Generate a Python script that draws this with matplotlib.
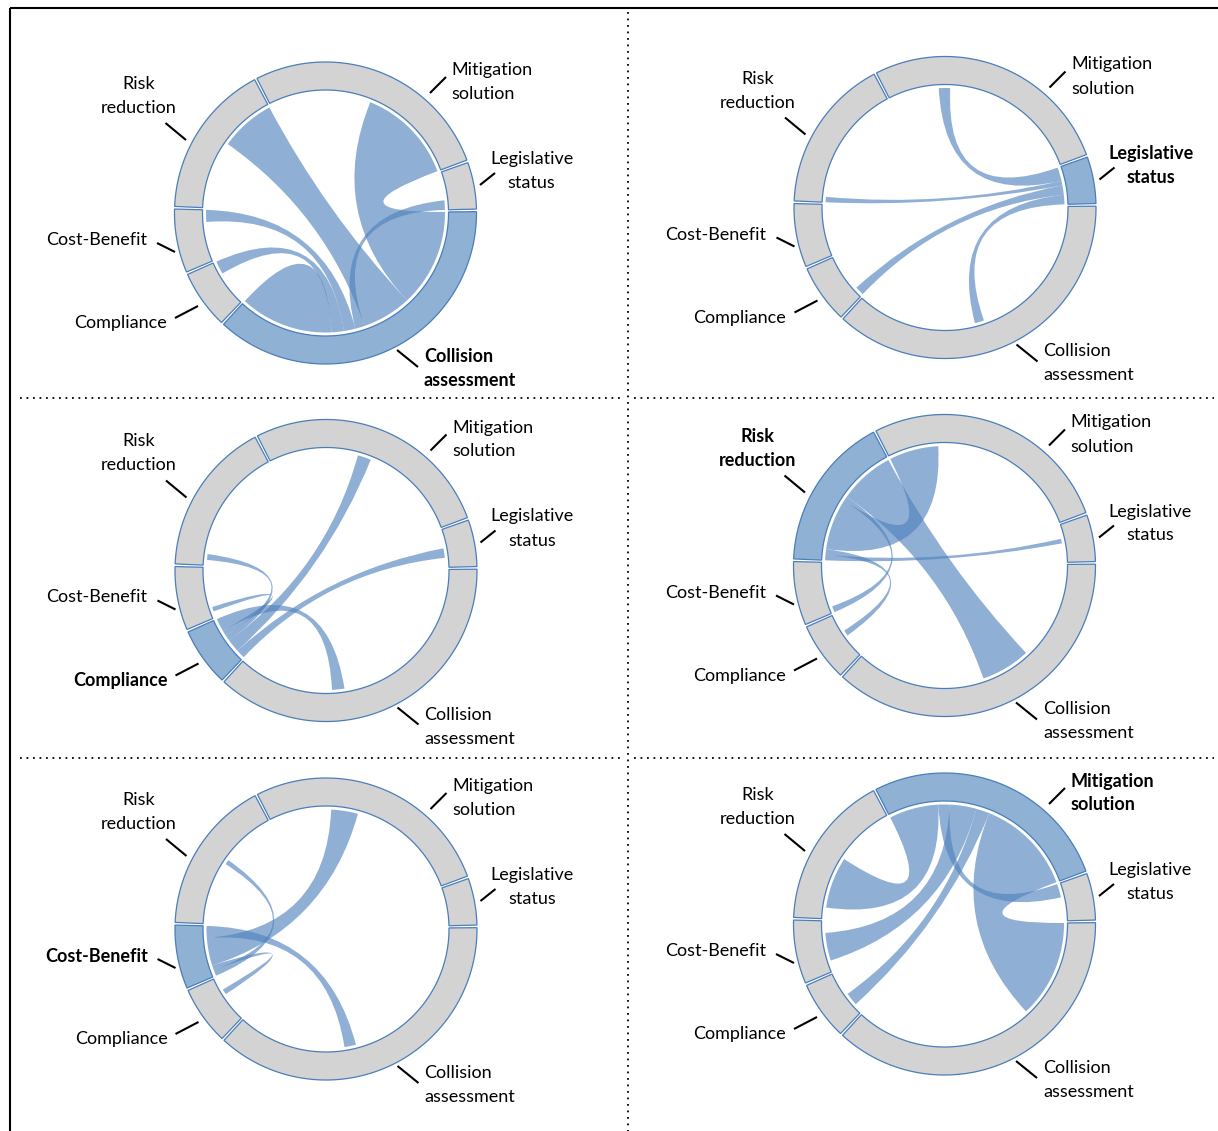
import numpy as np
import matplotlib
matplotlib.use("Agg")
import matplotlib.pyplot as plt
from matplotlib.path import Path
from matplotlib.patches import PathPatch, Polygon

# ---------------- data ----------------
group_keys = ["MS", "LS", "CA", "CO", "CB", "RR"]
group_labels = {
    "MS": ["Mitigation", "solution"],
    "LS": ["Legislative", "status"],
    "CA": ["Collision", "assessment"],
    "CO": ["Compliance"],
    "CB": ["Cost-Benefit"],
    "RR": ["Risk", "reduction"],
}
# links of each group, in the order they sit along the group's arc (partner, flow)
ms_links = [("RR", 24.0), ("LS", 5.5), ("CB", 13.0), ("CO", 6.5), ("CA", 47.5)]
ls_links = [("MS", 6.6), ("RR", 2.2), ("CO", 4.6), ("CA", 4.6)]
ca_links = [("MS", 47.5), ("RR", 24.0), ("LS", 4.5), ("CB", 5.6), ("CO", 6.0), ("CA", 45.4)]
co_links = [("LS", 4.4), ("MS", 6.3), ("RR", 2.8), ("CB", 2.6), ("CA", 6.4)]
cb_links = [("RR", 3.0), ("CO", 2.2), ("MS", 13.5), ("CA", 5.8)]
rr_links = [("LS", 2.6), ("CO", 2.8), ("MS", 25.0), ("CB", 2.3), ("CA", 26.8)]
links = {"MS": ms_links, "LS": ls_links, "CA": ca_links,
         "CO": co_links, "CB": cb_links, "RR": rr_links}
panel_focus = ["CA", "LS", "CO", "RR", "CB", "MS"]

# ---------------- layout ----------------
W, H = 1218, 1131
fig = plt.figure(figsize=(W / 100, H / 100), dpi=100)
ax = fig.add_axes([0, 0, 1, 1])
ax.set_xlim(0, W)
ax.set_ylim(H, 0)
ax.axis("off")

panel_centers = [(325.5, 213), (945, 207.5), (326, 570.5),
                 (944.5, 565.5), (326, 929), (944.5, 924)]
PAD = 1.0
START = 333.0
R_OUT, R_IN, R_CH = 151.0, 123.0, 119.5

CHORD = "#4f81bd"
CH_ALPHA = 0.63
RING = "#d3d3d3"
RING_HI = "#8fb1d4"
EDGE = "#4a7ebb"
FONT = "Lato"

total = sum(v for g in group_keys for _, v in links[g])
scale = (360.0 - PAD * len(group_keys)) / total

group_span = {}
sub = {}
a = START
for g in group_keys:
    g0 = a
    for p, v in links[g]:
        sub[(g, p)] = (a, a + v * scale)
        a += v * scale
    group_span[g] = (g0, a)
    a += PAD


def pt(c, r, ang):
    t = np.radians(ang)
    return (c[0] + r * np.sin(t), c[1] - r * np.cos(t))


def arc(c, r, a0, a1):
    n = max(4, int(abs(a1 - a0) * 2) + 2)
    return [pt(c, r, x) for x in np.linspace(a0, a1, n)]


def ribbon(c, s, t, self_link=False):
    verts, codes = [], []
    sa = arc(c, R_CH, s[0], s[1])
    verts += sa
    codes += [Path.MOVETO] + [Path.LINETO] * (len(sa) - 1)
    if not self_link:
        verts += [c, pt(c, R_CH, t[0])]
        codes += [Path.CURVE3, Path.CURVE3]
        ta = arc(c, R_CH, t[0], t[1])
        verts += ta[1:]
        codes += [Path.LINETO] * (len(ta) - 1)
    verts += [c, pt(c, R_CH, s[0])]
    codes += [Path.CURVE3, Path.CURVE3]
    verts.append(pt(c, R_CH, s[0]))
    codes.append(Path.CLOSEPOLY)
    return Path(verts, codes)


label_layout = {
    "RR": dict(lines=[(-187, -129), (-187, -105)], ha="center", tick=((-139.5, -73), (-160, -90))),
    "MS": dict(lines=[(126, -143), (126, -119)], ha="left", tick=((104.5, -120), (120.5, -136))),
    "LS": dict(lines=[(206, -54), (206, -30)], ha="center", tick=((154.5, -28), (169.5, -40))),
    "CB": dict(lines=[(-229, 27)], ha="center", tick=((-150.5, 39), (-168.5, 30))),
    "CO": dict(lines=[(-205, 110)], ha="center", tick=((-127.5, 93), (-150.5, 105))),
    "CA": dict(lines=[(98.5, 144), (98.5, 168)], ha="left", tick=((71.5, 137), (92.5, 154))),
}

for c, focus in zip(panel_centers, panel_focus):
    # chords
    for p, v in links[focus]:
        path = ribbon(c, sub[(focus, p)], sub[(p, focus)], self_link=(p == focus))
        ax.add_patch(PathPatch(path, facecolor=CHORD, alpha=CH_ALPHA, edgecolor="none", zorder=2))
    # ring
    for g in group_keys:
        g0, g1 = group_span[g]
        poly = arc(c, R_OUT, g0, g1) + arc(c, R_IN, g1, g0)
        ax.add_patch(Polygon(poly, closed=True, facecolor=RING_HI if g == focus else RING,
                             edgecolor=EDGE, linewidth=0.9, zorder=3))
    # labels
    for g in group_keys:
        lay = label_layout[g]
        (x0, y0), (x1, y1) = lay["tick"]
        ax.plot([c[0] + x0, c[0] + x1], [c[1] + y0, c[1] + y1], color="black", lw=1.5,
                solid_capstyle="butt", zorder=4)
        for txt, (dx, dy) in zip(group_labels[g], lay["lines"]):
            ax.text(c[0] + dx, c[1] + dy, txt, ha=lay["ha"], va="center", fontsize=13,
                    family=FONT, fontweight="bold" if g == focus else "normal", color="black",
                    zorder=5)

# frame and separators
ax.plot([10, 10], [8, H], color="black", lw=1.5, solid_capstyle="butt")
ax.plot([10, W], [8, 8], color="black", lw=1.5, solid_capstyle="butt")
dot = dict(color="black", lw=1.3, linestyle=(0, (1, 2.6)))
ax.plot([628, 628], [12, H], **dot)
for yy in (398, 758):
    ax.plot([20, 622], [yy, yy], **dot)
    ax.plot([634, 1214], [yy, yy], **dot)

fig.savefig("out.png", dpi=100)
